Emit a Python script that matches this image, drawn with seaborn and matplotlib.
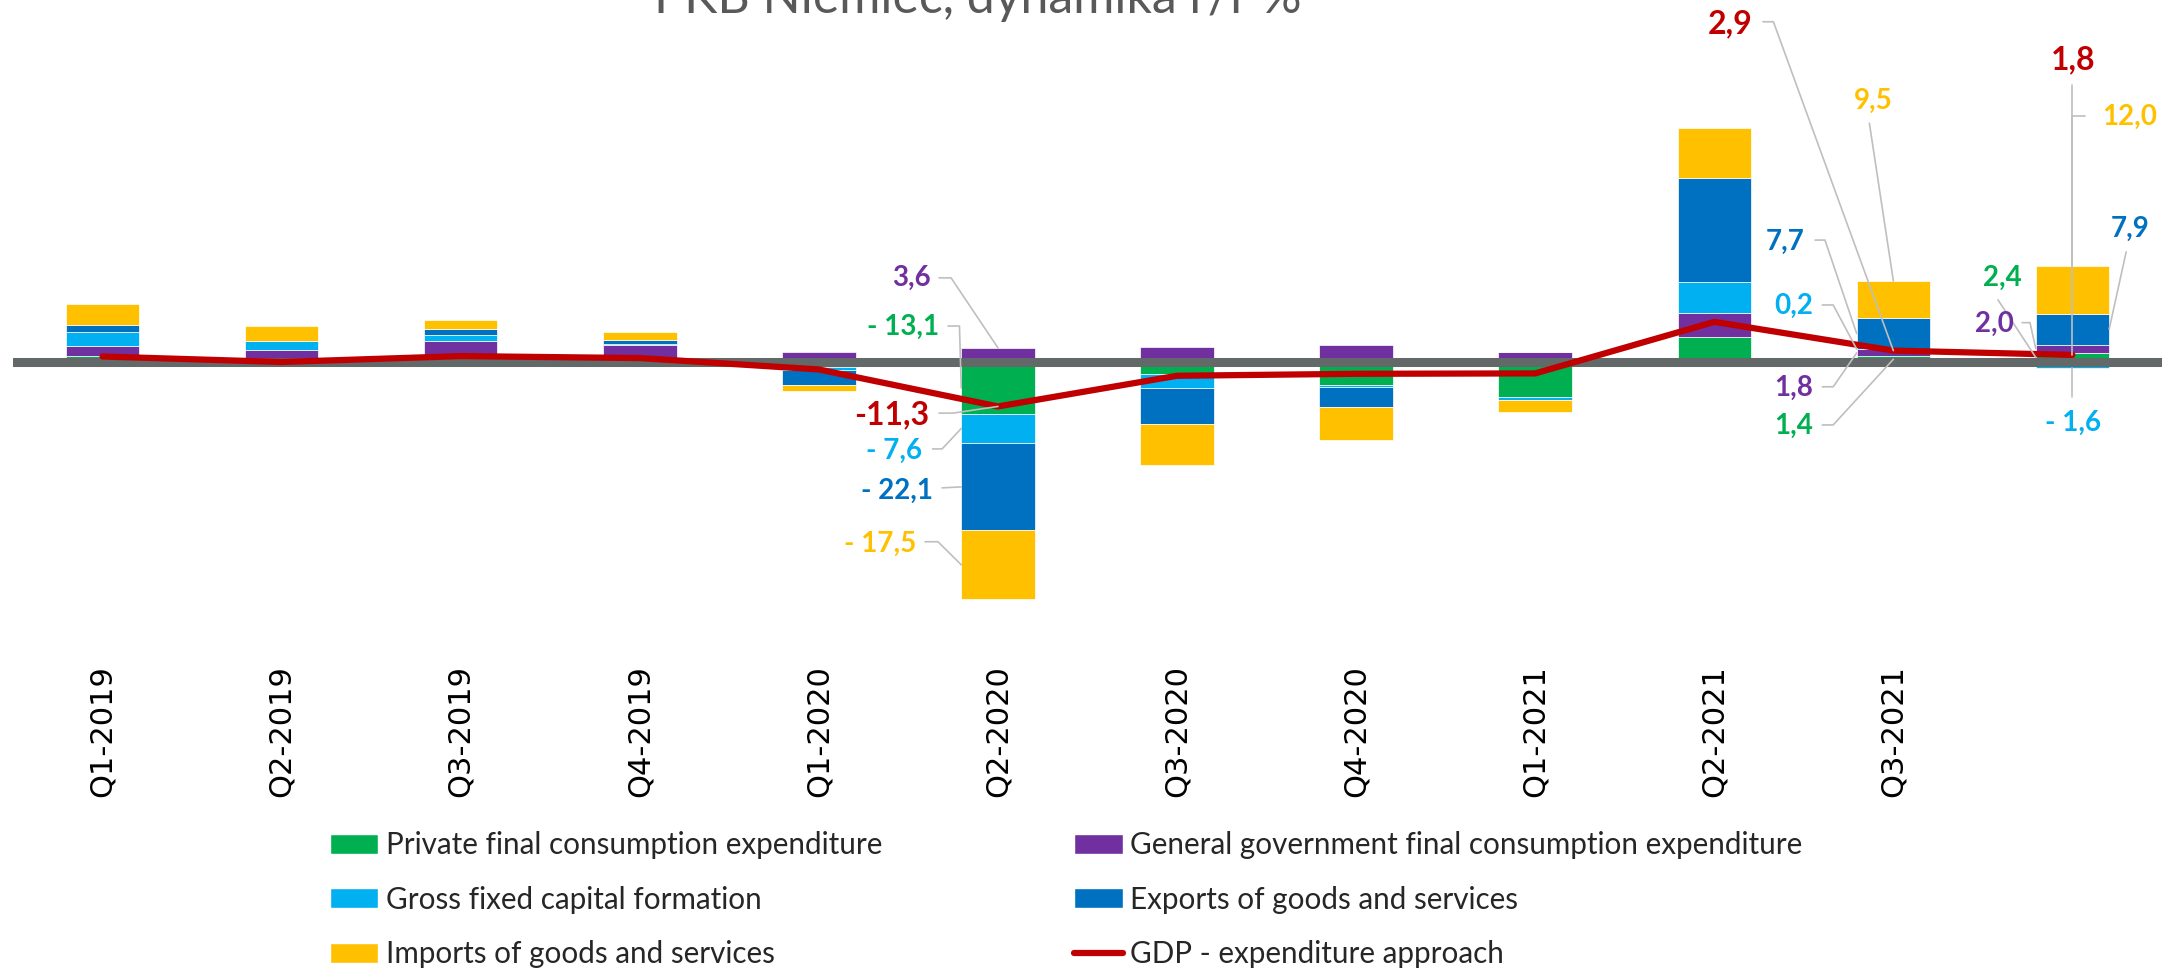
import numpy as np
import pandas as pd
import matplotlib
matplotlib.use("Agg")
import matplotlib.pyplot as plt
import seaborn as sns
from matplotlib.patches import Patch
from matplotlib.lines import Line2D

# --------------------------
# 1. Data (y/y %)
# --------------------------
quarters = ['Q1-2019', 'Q2-2019', 'Q3-2019', 'Q4-2019', 'Q1-2020', 'Q2-2020',
            'Q3-2020', 'Q4-2020', 'Q1-2021', 'Q2-2021', 'Q3-2021', 'Q4-2021']
tick_labels = quarters[:11] + ['']

private = [1.5, 0.5, 1.0, 0.8, -1.3, -13.1, -3.1, -5.9, -8.8, 6.3, 1.4, 2.4]
government = [2.5, 2.6, 4.3, 3.4, 2.6, 3.6, 3.9, 4.3, 2.5, 6.2, 1.8, 2.0]
gfcf = [3.6, 2.3, 1.5, 0.3, -0.8, -7.6, -3.4, -0.4, -0.8, 7.9, 0.2, -1.6]
exports = [1.7, -0.5, 1.7, 1.1, -3.8, -22.1, -9.3, -5.1, 0.0, 26.3, 7.7, 7.9]
imports = [5.5, 3.7, 2.1, 2.0, -1.5, -17.5, -10.3, -8.4, -3.0, 12.7, 9.5, 12.0]
gdp = [1.4, 0.0, 1.5, 1.0, -1.9, -11.3, -3.5, -3.0, -2.9, 10.2, 2.9, 1.8]

series_order = ['private', 'government', 'gfcf', 'exports', 'imports']
series_names = {
    'private': 'Private final consumption expenditure',
    'government': 'General government final consumption expenditure',
    'gfcf': 'Gross fixed capital formation',
    'exports': 'Exports of goods and services',
    'imports': 'Imports of goods and services',
    'gdp': 'GDP - expenditure approach',
}
colors = {'private': '#00B050', 'government': '#7030A0', 'gfcf': '#00B0F0',
          'exports': '#0070C0', 'imports': '#FFC000', 'gdp': '#C00000'}

df = pd.DataFrame({'private': private, 'government': government, 'gfcf': gfcf,
                   'exports': exports, 'imports': imports, 'gdp': gdp},
                  index=quarters)

# data labels: (series, quarter idx, text x, text y, ha, leader elbows, leader target)
label_layout = [
    ('government', 5, 4.626, 21.4, 'right', [(4.671, 21.4), (4.738, 21.4)], 'top'),
    ('private', 5, 4.671, 8.9, 'right', [(4.721, 9.15), (4.785, 9.15)], 'left'),
    ('gdp', 5, 4.615, -13.5, 'right', [(4.671, -13.0), (4.749, -13.0)], 'point'),
    ('gfcf', 5, 4.576, -22.6, 'right', [(4.635, -22.1), (4.688, -22.1)], 'left'),
    ('exports', 5, 4.635, -32.8, 'right', [(4.688, -32.0)], 'left'),
    ('imports', 5, 4.545, -46.3, 'right', [(4.593, -45.7), (4.665, -45.7)], 'left'),
    ('gdp', 10, 9.214, 85.9, 'right', [(9.272, 86.5), (9.330, 86.5)], 'point'),
    ('imports', 10, 9.886, 66.4, 'center', [(9.866, 60.7)], 'top'),
    ('exports', 10, 9.504, 30.6, 'right', [(9.563, 31.0), (9.618, 31.0)], 'left'),
    ('gfcf', 10, 9.553, 14.2, 'right', [(9.603, 14.5), (9.664, 14.5)], 'left'),
    ('government', 10, 9.553, -6.6, 'right', [(9.603, -6.3), (9.664, -6.3)], 'left'),
    ('private', 10, 9.553, -16.3, 'right', [(9.603, -16.0), (9.664, -16.0)], 'mid'),
    ('private', 11, 10.607, 21.5, 'center', [(10.584, 15.8)], 'left'),
    ('government', 11, 10.674, 9.7, 'right', [(10.719, 10.0), (10.763, 10.0)], 'left'),
    ('gdp', 11, 11.006, 76.8, 'center', [(11.0, 70.4)], 'point'),
    ('imports', 11, 11.165, 62.2, 'left', [(11.070, 62.5), (11.0, 62.5)], 'top'),
    ('exports', 11, 11.321, 33.8, 'center', [(11.300, 28.0)], 'right'),
    ('gfcf', 11, 11.003, -15.4, 'center', [(11.0, -8.8)], 'bottom'),
]


def fmt(v, key):
    s = f"{abs(v):.1f}".replace('.', ',')
    if v < 0:
        return ('-' if key == 'gdp' else '- ') + s
    return s


# --------------------------
# 2. Plot
# --------------------------
sns.set_theme(style="white")
plt.rcParams['font.family'] = ['Lato', 'DejaVu Sans']

fig = plt.figure(figsize=(21.81, 9.72), dpi=100)
ax = fig.add_axes([13 / 2181, (972 - 657) / 972, 2149 / 2181, 590 / 972])

x = np.arange(len(quarters))
width = 0.41

# stacked bars, positives and negatives stacked separately (like Excel)
pos_base = np.zeros(len(x))
neg_base = np.zeros(len(x))
bottoms = {}
for key in series_order:
    vals = df[key].to_numpy()
    base = np.where(vals >= 0, pos_base, neg_base)
    ax.bar(x, vals, width, bottom=base, color=colors[key],
           edgecolor='white', linewidth=0.5, zorder=2)
    bottoms[key] = base
    pos_base = pos_base + np.clip(vals, 0, None)
    neg_base = neg_base + np.clip(vals, None, 0)

ax.axhline(0, color='#636869', lw=6.5, zorder=3)
sns.lineplot(x=x, y=df['gdp'].to_numpy(), color=colors['gdp'], lw=4.5,
             ax=ax, zorder=4)


def target(key, i, kind):
    if key == 'gdp':
        return i, df['gdp'].iloc[i]
    b = bottoms[key][i]
    v = df[key].iloc[i]
    if kind == 'top':
        return i, max(b, b + v)
    if kind == 'bottom':
        return i, min(b, b + v)
    if kind == 'left':
        return i - width / 2, b + v / 2
    if kind == 'right':
        return i + width / 2, b + v / 2
    return i, b + v / 2


for key, i, tx, ty, ha, elbows, kind in label_layout:
    val = df[key].iloc[i]
    big = key == 'gdp'
    ax.text(tx, ty, fmt(val, key), ha=ha, va='center', color=colors[key],
            fontsize=23 if big else 20, fontweight='bold', clip_on=False,
            zorder=6)
    pts = elbows + [target(key, i, kind)]
    ax.plot([p[0] for p in pts], [p[1] for p in pts], color='#BFBFBF',
            lw=1.2, zorder=5, clip_on=False)

ax.set_xlim(-0.5, len(x) - 0.5)
ax.set_ylim(-75, 75)
ax.set_yticks([])
ax.set_xticks(x)
ax.set_xticklabels(tick_labels, rotation=90, fontsize=22, family='DejaVu Sans',
                   color='black')
ax.tick_params(axis='x', length=0, pad=6)
for s in ax.spines.values():
    s.set_visible(False)
ax.set_xlabel('')
ax.set_ylabel('')

fig.text(978 / 2181, 1 - 13 / 972, 'PKB Niemiec, dynamika r/r %', ha='center',
         va='baseline', fontsize=36, color='#595959')

# legend: column-major fill -> left column first
leg_keys = ['private', 'gfcf', 'imports', 'government', 'exports', 'gdp']
handles = []
for key in leg_keys:
    if key == 'gdp':
        handles.append(Line2D([0], [0], color=colors[key], lw=4.5))
    else:
        handles.append(Patch(facecolor=colors[key], edgecolor='white'))
fig.legend(handles, [series_names[k] for k in leg_keys], ncol=2,
           loc='upper left', bbox_to_anchor=(330 / 2181, 1 - 831 / 972),
           frameon=False, fontsize=21.3, handlelength=1.63, handleheight=0.66,
           handletextpad=0.25, columnspacing=6.5, labelspacing=0.9,
           borderpad=0, borderaxespad=0)

fig.savefig('out.png', dpi=100)
